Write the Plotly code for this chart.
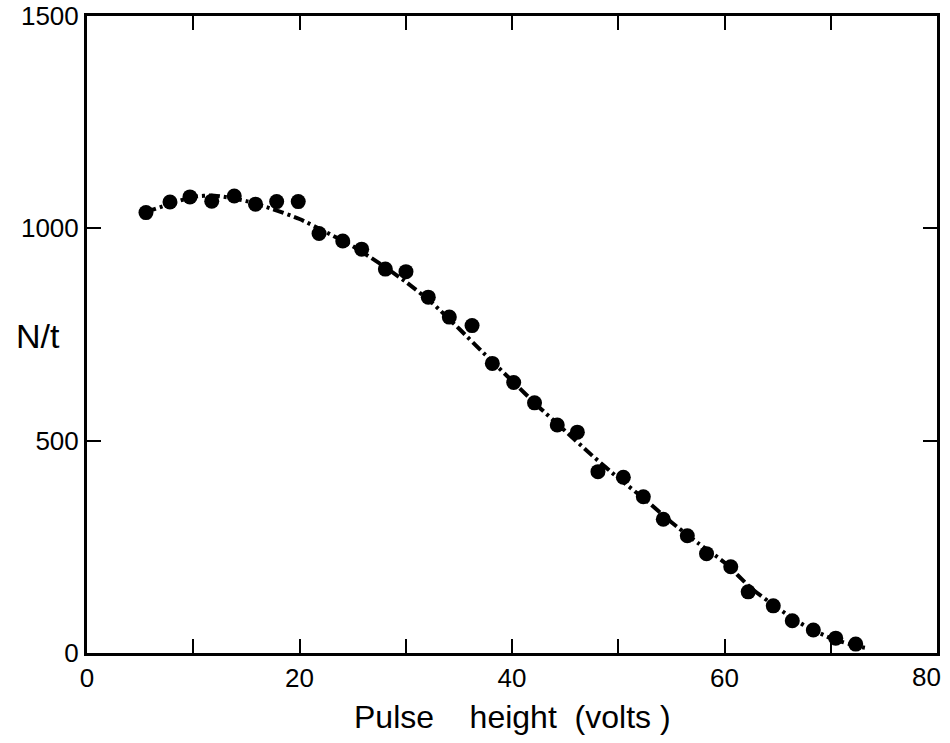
import plotly.graph_objects as go

# Measured counting rate per unit time versus pulse height
pulse_volts = [5.55, 7.81, 9.69, 11.74, 13.86, 15.86, 17.85, 19.88, 21.84, 24.07,
               25.85, 28.08, 30.02, 32.12, 34.10, 36.24, 38.15, 40.16, 42.12, 44.26,
               46.15, 48.09, 50.48, 52.36, 54.24, 56.50, 58.31, 60.59, 62.23, 64.59,
               66.38, 68.36, 70.47, 72.35]
rate = [1037, 1062, 1074, 1064, 1076, 1057, 1063, 1063, 988, 970,
        951, 904, 898, 838, 791, 771, 682, 637, 589, 537,
        520, 427, 414, 368, 315, 276, 234, 203, 144, 111,
        76, 54, 35, 21]

# Smooth fitted curve drawn through the measurements
fit_volts = [5.5, 10, 12, 15, 17.5, 20, 22.5, 25, 27.5, 30, 32.5, 35, 37.5, 40,
             42.5, 45, 47.5, 50, 52.5, 55, 57.5, 60, 62.5, 65, 67.5, 70, 72.5, 73.5]
fit_rate = [1038, 1074, 1077, 1064, 1045, 1022, 991, 958, 918, 874, 824, 764, 702, 641,
            580, 523, 466, 412, 362, 308, 259, 213, 153, 106, 65, 35, 16, 11]

x_ticks = [0, 20, 40, 60, 80]
y_ticks = [0, 500, 1000, 1500]
label_font = dict(family="Liberation Sans", size=26, color="black")

fig = go.Figure()
fig.add_trace(go.Scatter(
    x=fit_volts, y=fit_rate, mode="lines",
    line=dict(color="black", width=4, dash="11px,4px,3px,4px", shape="spline", smoothing=0.6),
    hoverinfo="skip", showlegend=False))
fig.add_trace(go.Scatter(
    x=pulse_volts, y=rate, mode="markers",
    marker=dict(color="black", size=15, line=dict(width=0)),
    showlegend=False))

axis_common = dict(
    showgrid=False, zeroline=False, showline=True, linecolor="black", linewidth=3,
    mirror="ticks", ticks="inside", ticklen=14, tickwidth=2, tickcolor="black",
    tickfont=label_font, automargin=False,
)
# the last x label sits inset from the right frame edge, so it is placed separately
fig.update_xaxes(range=[0, 80], tickvals=x_ticks,
                 ticktext=[str(v) for v in x_ticks[:-1]] + [""],
                 minor=dict(dtick=10, ticks="inside", ticklen=14, tickwidth=2, tickcolor="black"),
                 **axis_common)
fig.update_yaxes(range=[0, 1500], tickvals=y_ticks, ticktext=[str(v) for v in y_ticks],
                 **axis_common)

fig.update_layout(
    width=950, height=743,
    margin=dict(l=87, r=13, t=16, b=90),
    paper_bgcolor="white", plot_bgcolor="white",
    annotations=[
        dict(text=str(x_ticks[-1]), xref="x", yref="paper", x=x_ticks[-1], y=-0.037,
             xanchor="center", yanchor="middle", xshift=-11, showarrow=False, font=label_font),
        dict(text="Pulse\u00a0\u00a0\u00a0\u00a0height\u00a0\u00a0(volts\u00a0)",
             xref="paper", yref="paper", x=0.5, y=-0.1, xanchor="center", yanchor="middle",
             showarrow=False, font=dict(family="Liberation Sans", size=32, color="black")),
        dict(text="N/t", xref="paper", yref="paper", x=-0.0576, y=0.4977,
             xanchor="center", yanchor="middle", showarrow=False,
             font=dict(family="Liberation Sans", size=34, color="black")),
    ],
)

fig.write_html("out.html")
